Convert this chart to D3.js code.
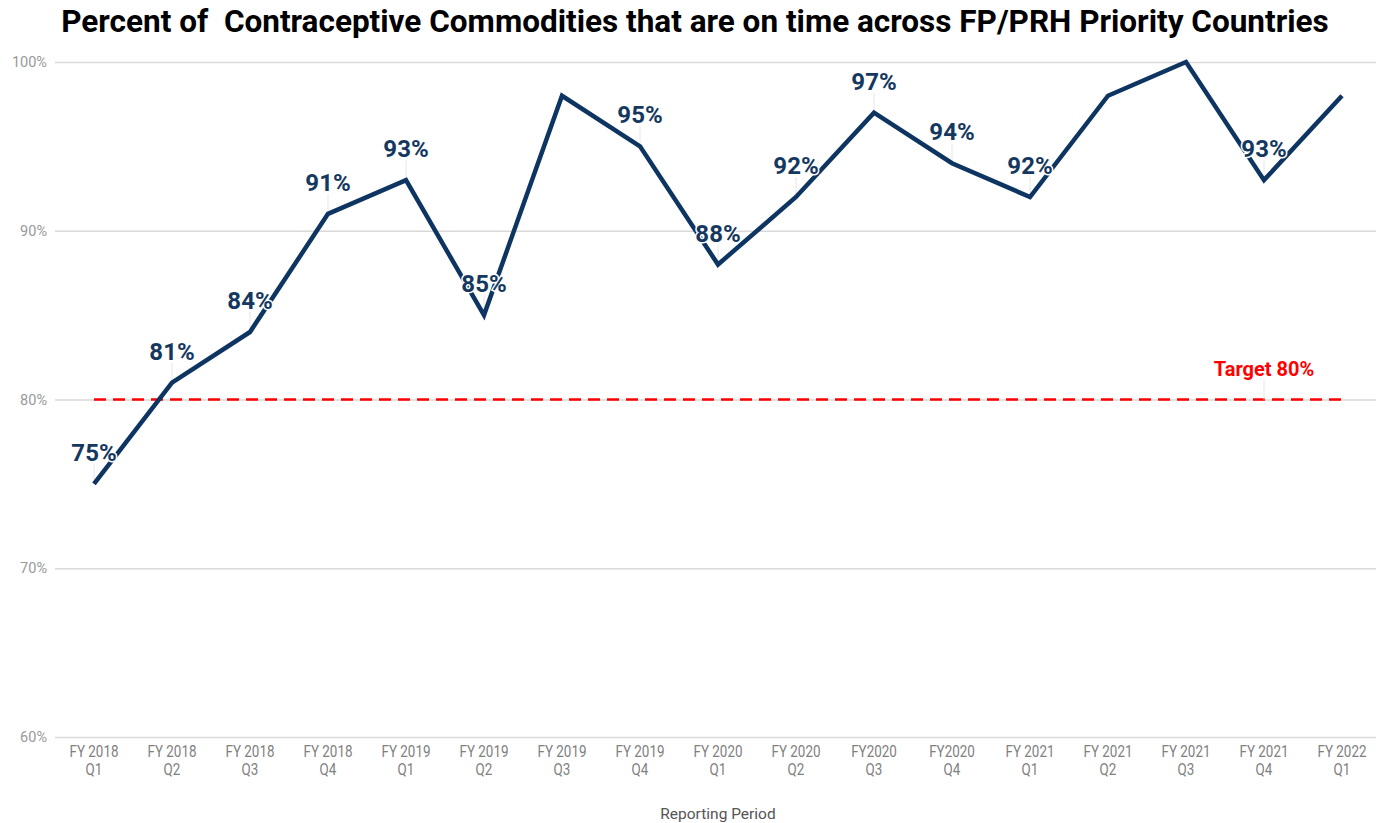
<!DOCTYPE html>
<html>
  <head>
    <title>On-time Contraceptive Commodities</title>
    <style>
      body { margin: 0; background: #fff; font-family: Roboto, "Noto Sans", sans-serif; }
    </style>
  </head>
  <body>
    <div id="chart"></div>
  </body>
  <script src="https://d3js.org/d3.v7.min.js"></script>
  <script>

    // reporting periods (two-line tick labels)
    let periods = [
      ["FY 2018", "Q1"], ["FY 2018", "Q2"], ["FY 2018", "Q3"], ["FY 2018", "Q4"],
      ["FY 2019", "Q1"], ["FY 2019", "Q2"], ["FY 2019", "Q3"], ["FY 2019", "Q4"],
      ["FY 2020", "Q1"], ["FY 2020", "Q2"], ["FY2020", "Q3"], ["FY2020", "Q4"],
      ["FY 2021", "Q1"], ["FY 2021", "Q2"], ["FY 2021", "Q3"], ["FY 2021", "Q4"],
      ["FY 2022", "Q1"]
    ];
    // percent on time
    let onTime = [75, 81, 84, 91, 93, 85, 98, 95, 88, 92, 97, 94, 92, 98, 100, 93, 98];
    // which points carry a value label
    let showLabel = [1, 1, 1, 1, 1, 1, 0, 1, 1, 1, 1, 1, 1, 0, 0, 1, 0];
    let target = 80;
    let yTicks = [60, 70, 80, 90, 100];

    let W = 1376, H = 823;
    let margin = {top: 62, right: -5, bottom: 86, left: 55};
    let width = W - margin.left - margin.right;
    let height = H - margin.top - margin.bottom;

    let keys = periods.map(function(p, i) { return i; });

    let xScale = d3.scaleBand()
      .domain(keys)
      .range([0, width]);
    let yScale = d3.scaleLinear()
      .domain([60, 100])
      .range([height, 0]);
    let cx = function(i) { return xScale(i) + xScale.bandwidth() / 2; };

    let svgRoot = d3.select("#chart").append("svg")
      .attr("width", W)
      .attr("height", H);

    // title
    svgRoot.append("text")
      .attr("x", 695)
      .attr("y", 32)
      .attr("text-anchor", "middle")
      .style("font-size", "31.5px")
      .style("font-weight", "bold")
      .style("fill", "#000")
      .text("Percent of \u00a0Contraceptive Commodities that are on time across FP/PRH Priority Countries");

    let svg = svgRoot.append("g")
      .attr("transform", "translate(" + margin.left + "," + margin.top + ")");

    // gridlines + y labels
    let yAxis = svg.append("g")
      .call(d3.axisLeft(yScale).tickValues(yTicks).tickSize(-width - 10)
        .tickFormat(function(d) { return d + "%"; }));
    yAxis.select(".domain").remove();
    yAxis.selectAll("line").attr("stroke", "#d9d9d9").attr("stroke-width", 1.5);
    yAxis.selectAll("text")
      .attr("x", -8)
      .style("font-size", "14.5px")
      .style("font-family", "Roboto")
      .style("fill", "#999");

    // x labels
    let xAxis = svg.append("g")
      .attr("transform", "translate(0," + height + ")")
      .call(d3.axisBottom(xScale).tickSize(0).tickFormat(""));
    xAxis.select(".domain").remove();
    xAxis.selectAll(".tick").each(function(i) {
      let t = d3.select(this).append("text")
        .attr("transform", "scale(0.84,1)")
        .attr("text-anchor", "middle")
        .style("font-size", "16px")
        .style("font-family", "Roboto")
        .style("fill", "#808080");
      t.append("tspan").attr("x", 0).attr("y", 20).text(periods[i][0]);
      t.append("tspan").attr("x", 0).attr("y", 38).text(periods[i][1]);
    });

    // axis title
    svgRoot.append("text")
      .attr("x", 718)
      .attr("y", 819)
      .attr("text-anchor", "middle")
      .style("font-size", "15.5px")
      .style("fill", "#555")
      .text("Reporting Period");

    // target line
    svg.append("line")
      .attr("x1", cx(0))
      .attr("x2", cx(keys.length - 1))
      .attr("y1", yScale(target))
      .attr("y2", yScale(target))
      .attr("stroke", "#ff0000")
      .attr("stroke-width", 2.5)
      .attr("stroke-dasharray", "12,7");

    // target label with leader
    let tIdx = 15;
    svg.append("line")
      .attr("x1", cx(tIdx)).attr("x2", cx(tIdx))
      .attr("y1", yScale(target) - 20).attr("y2", yScale(target))
      .attr("stroke", "#e6e6e6").attr("stroke-width", 1);
    svg.append("text")
      .attr("x", cx(tIdx))
      .attr("y", yScale(target) - 24)
      .attr("text-anchor", "middle")
      .style("font-size", "20px")
      .style("font-weight", "bold")
      .style("fill", "#ff0000")
      .text("Target " + target + "%");

    // leader lines for value labels
    svg.selectAll(".leader")
      .data(keys.filter(function(i) { return showLabel[i]; }))
      .enter().append("line")
      .attr("class", "leader")
      .attr("x1", function(i) { return cx(i); })
      .attr("x2", function(i) { return cx(i); })
      .attr("y1", function(i) { return yScale(onTime[i]) - 20; })
      .attr("y2", function(i) { return yScale(onTime[i]); })
      .attr("stroke", "#e6e6e6")
      .attr("stroke-width", 1);

    // main line
    let line = d3.line()
      .x(function(i) { return cx(i); })
      .y(function(i) { return yScale(onTime[i]); });

    svg.append("path")
      .datum(keys)
      .attr("d", line)
      .attr("fill", "none")
      .attr("stroke", "#0e3561")
      .attr("stroke-width", 4.5)
      .attr("stroke-linejoin", "miter");

    // value labels
    svg.selectAll(".val")
      .data(keys.filter(function(i) { return showLabel[i]; }))
      .enter().append("text")
      .attr("class", "val")
      .attr("x", function(i) { return cx(i); })
      .attr("y", function(i) { return yScale(onTime[i]) - 23; })
      .attr("text-anchor", "middle")
      .style("font-size", "24px")
      .style("font-weight", "bold")
      .style("fill", "#15385f")
      .style("stroke", "#fff")
      .style("stroke-width", 3)
      .style("paint-order", "stroke")
      .text(function(i) { return onTime[i] + "%"; });

  </script>
</html>
